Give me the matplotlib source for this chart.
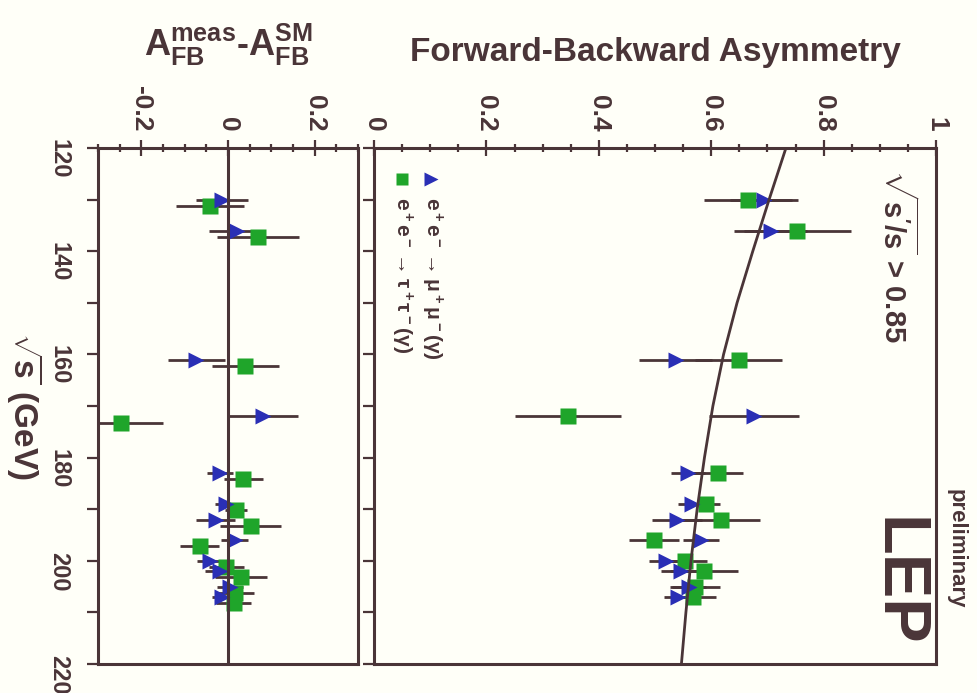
import matplotlib.pyplot as plt
from matplotlib.ticker import MultipleLocator

# LEP forward-backward asymmetry, drawn rotated (sqrt(s) runs downwards)

plt.rcParams['font.family'] = ['Liberation Sans', 'DejaVu Sans']
plt.rcParams['font.weight'] = 'bold'
plt.rcParams['axes.labelweight'] = 'bold'
plt.rcParams['mathtext.fontset'] = 'custom'
plt.rcParams['mathtext.rm'] = 'Liberation Sans:bold'
plt.rcParams['mathtext.it'] = 'Liberation Sans:bold'
plt.rcParams['mathtext.bf'] = 'Liberation Sans:bold'
plt.rcParams['mathtext.sf'] = 'Liberation Sans:bold'

# data
energy = [130, 136, 161, 172, 183, 189, 192, 196, 200, 202, 205, 207]

afb_mumu = [0.694, 0.706, 0.537, 0.676, 0.559, 0.566, 0.539, 0.582, 0.520, 0.546, 0.560, 0.541]
afb_tautau = [0.665, 0.753, 0.649, 0.345, 0.612, 0.590, 0.617, 0.498, 0.553, 0.587, 0.571, 0.568]
err_mumu = [0.060, 0.065, 0.065, 0.080, 0.030, 0.025, 0.045, 0.032, 0.030, 0.035, 0.030, 0.025]
err_tautau = [0.078, 0.095, 0.077, 0.095, 0.045, 0.025, 0.070, 0.045, 0.040, 0.060, 0.045, 0.040]

diff_mumu = [-0.015, 0.021, -0.073, 0.081, -0.019, -0.005, -0.028, 0.015, -0.042, -0.019, 0.004, -0.013]
diff_tautau = [-0.041, 0.069, 0.040, -0.246, 0.035, 0.019, 0.052, -0.065, -0.004, 0.029, 0.015, 0.013]

sm_energy = [120, 130, 140, 150, 160, 170, 180, 190, 200, 210, 220]
sm_afb = [0.733, 0.703, 0.674, 0.646, 0.622, 0.603, 0.588, 0.575, 0.564, 0.555, 0.547]

# styles
dark = '#4a3538'
green = '#1fa52a'
blue = '#2a2fb5'
bg = '#fffff8'
tau_shift = 1.2  # tau points drawn slightly displaced in the difference panel

fig = plt.figure(figsize=(9.77, 6.93), dpi=100)
fig.patch.set_facecolor(bg)

W, H = 977.0, 693.0
axL = fig.add_axes([98 / W, 1 - 664 / H, 260 / W, 516 / H])
axM = fig.add_axes([374 / W, 1 - 664 / H, 562 / W, 516 / H])

for ax in (axL, axM):
    ax.set_facecolor(bg)
    ax.set_ylim(220, 120)
    ax.xaxis.tick_top()
    ax.yaxis.set_major_locator(MultipleLocator(20))
    ax.yaxis.set_minor_locator(MultipleLocator(10))
    ax.xaxis.set_minor_locator(MultipleLocator(0.05))
    for sp in ax.spines.values():
        sp.set_color(dark)
        sp.set_linewidth(2.2)
    ax.tick_params(axis='x', which='both', direction='inout', colors=dark,
                   width=1.6, labelsize=19, labelrotation=-90, pad=6,
                   top=True, bottom=False)
    ax.tick_params(axis='x', which='major', length=12)
    ax.tick_params(axis='x', which='minor', length=6)
    ax.tick_params(axis='y', which='both', direction='out', colors=dark,
                   width=1.6, length=8, right=False)

# difference panel
axL.set_xlim(-0.3, 0.3)
axL.set_xticks([-0.2, 0, 0.2])
axL.set_xticklabels(['-0.2', '0', '0.2'])
axL.tick_params(axis='y', labelsize=17, labelrotation=-90, pad=12)
axL.axvline(0, color=dark, lw=2.2, zorder=4)
axL.errorbar(diff_mumu, energy, xerr=err_mumu, fmt='none', ecolor=dark,
             elinewidth=2, capsize=0, zorder=2)
axL.errorbar(diff_tautau, [e + tau_shift for e in energy], xerr=err_tautau,
             fmt='none', ecolor=dark, elinewidth=2, capsize=0, zorder=2)
axL.plot(diff_tautau, [e + tau_shift for e in energy], 's', color=green,
         ms=11, mec='none', zorder=3)
axL.plot(diff_mumu, energy, '>', color=blue, ms=12, mec='none', zorder=3)
axL.set_ylabel(r'$\sqrt{s}$ (GeV)', fontsize=24, color=dark, rotation=-90,
               va='center', ha='center')
axL.yaxis.set_label_coords(-0.28, 0.50)

# asymmetry panel
axM.set_xlim(0, 1)
axM.set_xticks([0, 0.2, 0.4, 0.6, 0.8, 1])
axM.set_xticklabels(['0', '0.2', '0.4', '0.6', '0.8', '1'])
axM.tick_params(axis='y', labelleft=False)
axM.errorbar(afb_mumu, energy, xerr=err_mumu, fmt='none', ecolor=dark,
             elinewidth=2, capsize=0, zorder=2)
axM.errorbar(afb_tautau, energy, xerr=err_tautau, fmt='none', ecolor=dark,
             elinewidth=2, capsize=0, zorder=2)
axM.plot(afb_tautau, energy, 's', color=green, ms=11, mec='none', zorder=3)
axM.plot(afb_mumu, energy, '>', color=blue, ms=12, mec='none', zorder=3)
axM.plot(sm_afb, sm_energy, color=dark, lw=2, zorder=4)

# hand-made rotated legend
axM.plot([0.05], [0.94], 's', color=green, ms=9, mec='none', transform=axM.transAxes)
axM.plot([0.102], [0.94], '>', color=blue, ms=10, mec='none', transform=axM.transAxes)
axM.text(0.05, 0.905, r'e$^+$e$^-$$\rightarrow$$\tau^+\tau^-$($\gamma$)',
         transform=axM.transAxes, rotation=-90, ha='center', va='top',
         fontsize=15, color=dark)
axM.text(0.102, 0.905, r'e$^+$e$^-$$\rightarrow$$\mu^+\mu^-$($\gamma$)',
         transform=axM.transAxes, rotation=-90, ha='center', va='top',
         fontsize=15, color=dark)

axM.text(0.93, 0.96, r"$\sqrt{s'/s}$ > 0.85", transform=axM.transAxes,
         rotation=-90, ha='center', va='top', fontsize=21, color=dark)
axM.text(0.93, 0.285, 'LEP', transform=axM.transAxes, rotation=-90,
         ha='center', va='top', fontsize=48, color=dark)
axM.text(1.035, 0.34, 'preliminary', transform=axM.transAxes, rotation=-90,
         ha='center', va='top', fontsize=16, color=dark)

fig.text(655 / W, 1 - 52 / H, 'Forward-Backward Asymmetry', ha='center',
         va='center', fontsize=24, color=dark)
fig.text(228 / W, 1 - 45 / H,
         r'$\mathregular{A_{FB}^{meas}}$-$\mathregular{A_{FB}^{SM}}$',
         ha='center', va='center', fontsize=26, color=dark)

fig.savefig('out.png', dpi=100, facecolor=fig.get_facecolor())
